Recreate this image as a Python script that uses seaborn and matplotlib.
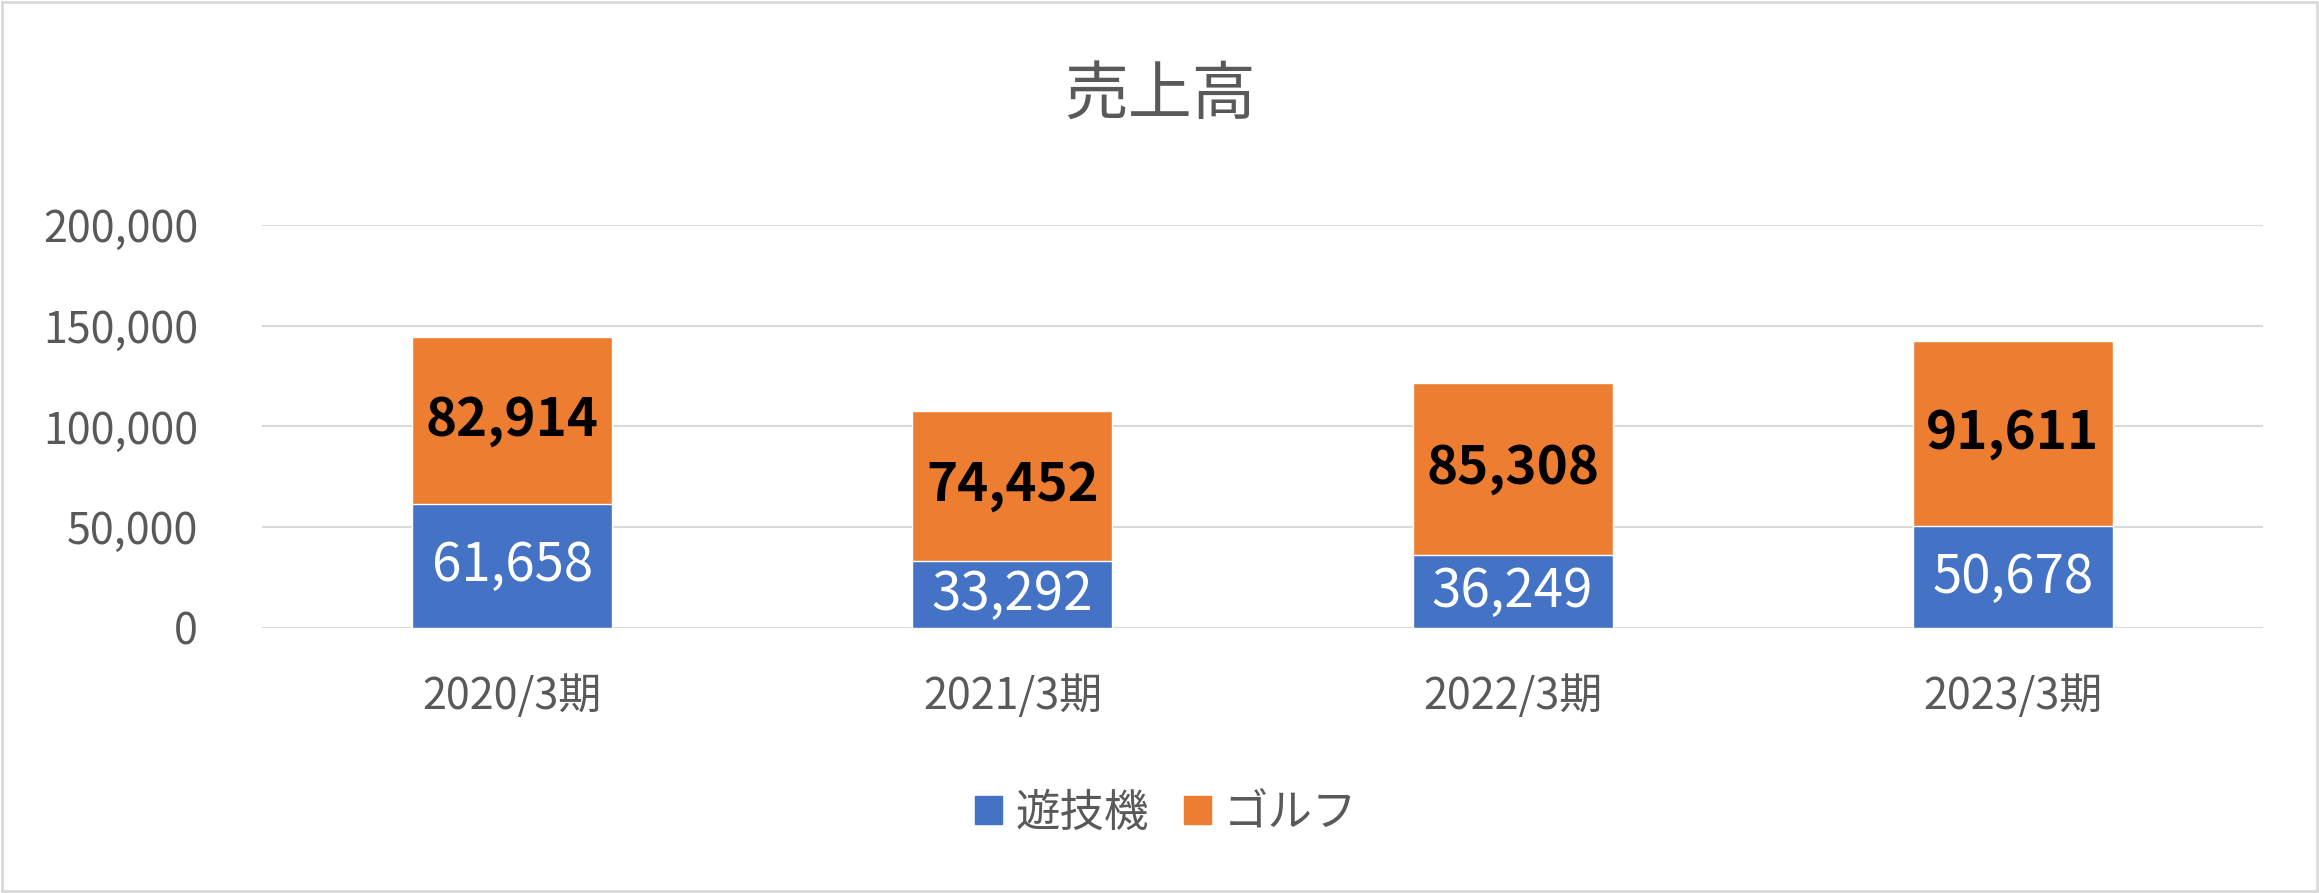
import matplotlib
matplotlib.use("Agg")
import matplotlib.pyplot as plt
import matplotlib.patches as mpatches
from matplotlib.ticker import FuncFormatter
import pandas as pd
import seaborn as sns

# data
periods = ["2020/3期", "2021/3期", "2022/3期", "2023/3期"]
yugiki = [61658, 33292, 36249, 50678]
golf = [82914, 74452, 85308, 91611]
series_names = ["遊技機", "ゴルフ"]

blue = "#4472C4"
orange = "#ED7D31"
gray = "#595959"

sns.set_style("white")
plt.rcParams["font.family"] = ["Noto Sans CJK JP", "DejaVu Sans"]

df = pd.DataFrame({"period": periods, "yugiki": yugiki, "golf": golf})
df["total"] = df["yugiki"] + df["golf"]

fig = plt.figure(figsize=(23.19, 8.93), dpi=100)
ax = fig.add_axes([0.113, 0.2968, 0.8628, 0.4512])

# stacked bars: totals (orange) then bottom segment (blue)
sns.barplot(data=df, x="period", y="total", color=orange, width=0.4,
            saturation=1, ax=ax, zorder=3)
sns.barplot(data=df, x="period", y="yugiki", color=blue, width=0.4,
            saturation=1, ax=ax, zorder=3)

ax.set_xlim(-0.5, 3.5)
ax.set_ylim(0, 200000)
ax.set_yticks([0, 50000, 100000, 150000, 200000])
ax.yaxis.set_major_formatter(FuncFormatter(lambda v, p: f"{int(v):,}"))
ax.grid(axis="y", color="#D9D9D9", linewidth=1.5, zorder=0)
ax.set_axisbelow(True)
for s in ax.spines.values():
    s.set_visible(False)
ax.tick_params(axis="both", length=0, colors=gray)
ax.tick_params(axis="y", pad=46, labelsize=31)
ax.tick_params(axis="x", pad=34, labelsize=31)
ax.set_xlabel("")
ax.set_ylabel("")

# data labels
for i, (b, g) in enumerate(zip(yugiki, golf)):
    ax.text(i, b / 2, f"{b:,}", ha="center", va="center",
            fontsize=38, color="white", zorder=5)
    ax.text(i, b + g / 2, f"{g:,}", ha="center", va="center",
            fontsize=38, fontweight="bold", color="black", zorder=5)

fig.text(0.5, 0.893, "売上高", ha="center", va="center", fontsize=46, color=gray)

handles = [mpatches.Patch(color=blue, label=series_names[0]),
           mpatches.Patch(color=orange, label=series_names[1])]
leg = fig.legend(handles=handles, loc="center", bbox_to_anchor=(0.503, 0.09),
                 ncol=2, frameon=False, fontsize=32, handlelength=0.6,
                 handleheight=0.6, handletextpad=0.3, columnspacing=0.8)
for t in leg.get_texts():
    t.set_color(gray)

fig.patches.append(mpatches.Rectangle((0.001, 0.002), 0.998, 0.996,
                                      transform=fig.transFigure, fill=False,
                                      edgecolor="#D9D9D9", linewidth=2))

fig.savefig("out.png", dpi=100)
